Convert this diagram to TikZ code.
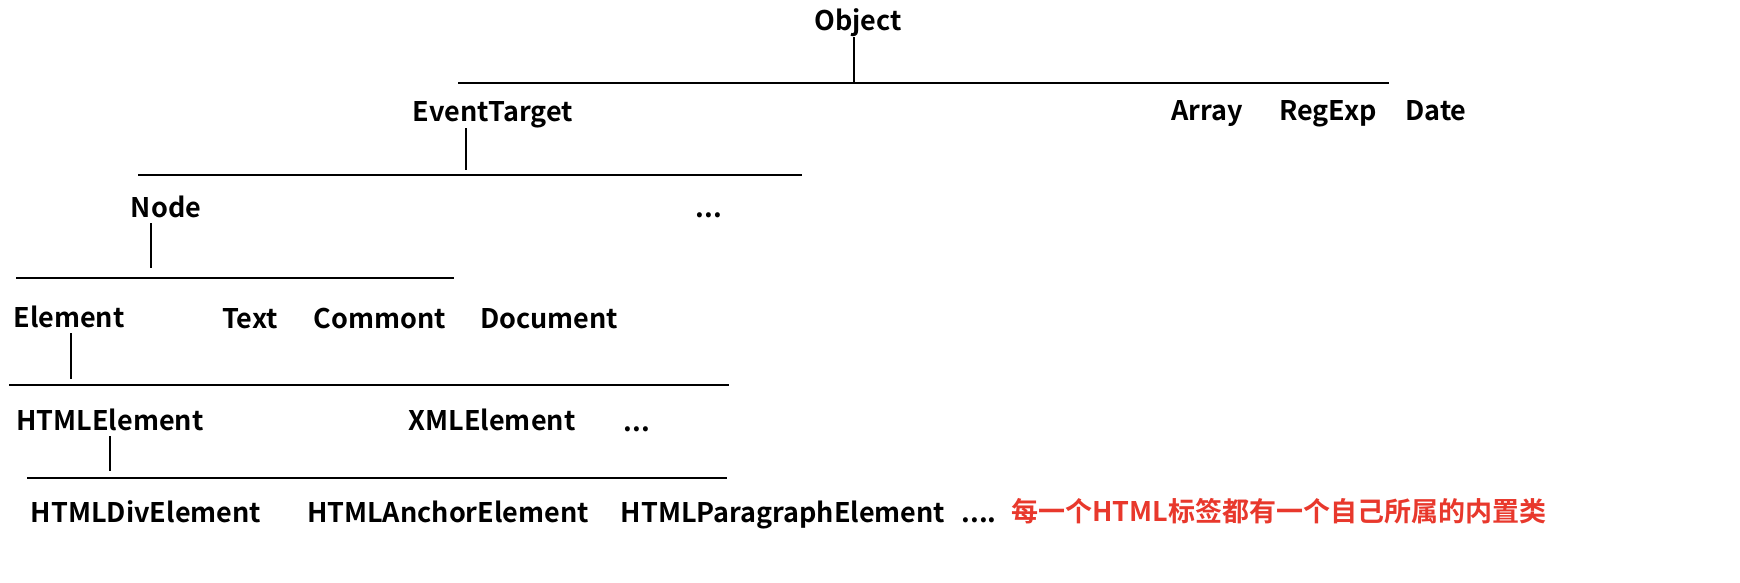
\documentclass[tikz,border=0pt]{standalone}
\usepackage{fontspec}
\newfontfamily\labelfont{Noto Sans CJK SC Bold}
\definecolor{notered}{RGB}{232,56,44}

\begin{document}
\begin{tikzpicture}[x=0.5pt,y=-0.5pt,
    cls/.style={anchor=base,inner sep=3pt,text depth=0pt,font=\labelfont\fontsize{13.5}{16}\selectfont},
    bus/.style={line width=1pt},
    stub/.style={line width=0.7pt}]
  \useasboundingbox (0,0) rectangle (1740,583);
  % level 0
  \node[cls] (obj) at (858,31) {Object};
  \coordinate (bus1w) at (458,83); \coordinate (bus1e) at (1389,83);
  \draw[bus] (bus1w) -- (bus1e);
  \draw[stub] ([xshift=-2pt]obj.south) -- ([xshift=-2pt]obj.south |- bus1w);
  % level 1
  \node[cls] (evt) at (493,122) {EventTarget};
  \node[cls] (arr) at (1207,120) {Array};
  \node[cls] (rgx) at (1328,120) {RegExp};
  \node[cls] (date) at (1436,120) {Date};
  \coordinate (bus2w) at (138,175); \coordinate (bus2e) at (802,175);
  \draw[bus] (bus2w) -- (bus2e);
  \draw[stub,shorten >=2.5pt] ([xshift=-13.5pt]evt.south) -- ([xshift=-13.5pt]evt.south |- bus2w);
  % level 2
  \node[cls] (nde) at (166,217) {Node};
  \node[cls] (more1) at (709,217) {...};
  \coordinate (bus3w) at (16,278); \coordinate (bus3e) at (454,278);
  \draw[bus] (bus3w) -- (bus3e);
  \draw[stub,shorten >=5pt] ([xshift=-7.5pt]nde.south) -- ([xshift=-7.5pt]nde.south |- bus3w);
  % level 3
  \node[cls] (elem) at (69,327) {Element};
  \node[cls] (txt) at (250,328) {Text};
  \node[cls] (cmt) at (380,328) {Commont};
  \node[cls] (doc) at (549,328) {Document};
  \coordinate (bus4w) at (9,385); \coordinate (bus4e) at (729,385);
  \draw[bus] (bus4w) -- (bus4e);
  \draw[stub,shorten >=3pt] ([xshift=1pt]elem.south) -- ([xshift=1pt]elem.south |- bus4w);
  % level 4
  \node[cls] (htmlel) at (110,430) {HTMLElement};
  \node[cls] (xmlel) at (492,430) {XMLElement};
  \node[cls] (more2) at (637,431) {...};
  \coordinate (bus5w) at (27,478); \coordinate (bus5e) at (727,478);
  \draw[bus] (bus5w) -- (bus5e);
  \draw[stub,shorten >=3.5pt] (htmlel.south) -- (htmlel.south |- bus5w);
  % level 5
  \node[cls] (div) at (146,522) {HTMLDivElement};
  \node[cls] (anchor) at (448,522) {HTMLAnchorElement};
  \node[cls] (para) at (783,522) {HTMLParagraphElement};
  \node[cls] (more3) at (979,522) {....};
  \node[cls,anchor=base west,text=notered] (note) at (1005,521) {每一个HTML标签都有一个自己所属的内置类};
\end{tikzpicture}
\end{document}
